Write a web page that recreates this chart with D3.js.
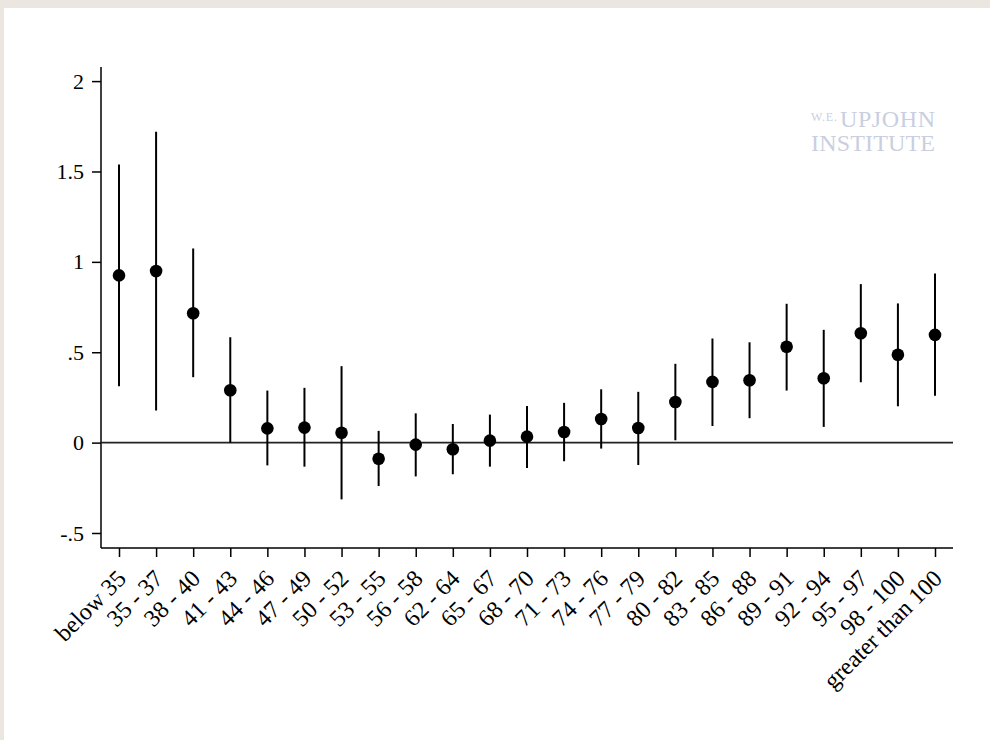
<!DOCTYPE html>
<html><head><meta charset="utf-8">
<script src="https://cdn.jsdelivr.net/npm/d3@7"></script>
<style>
html,body{margin:0;padding:0;background:#ebe6df;}
svg{display:block;}
</style></head>
<body>
<svg id="chart" width="990" height="740"></svg>
<script>
const categories = ["below 35","35 - 37","38 - 40","41 - 43","44 - 46","47 - 49","50 - 52","53 - 55","56 - 58","62 - 64","65 - 67","68 - 70","71 - 73","74 - 76","77 - 79","80 - 82","83 - 85","86 - 88","89 - 91","92 - 94","95 - 97","98 - 100","greater than 100"];
const estimate = [0.925,0.949,0.716,0.290,0.079,0.083,0.055,-0.089,-0.011,-0.037,0.011,0.033,0.059,0.131,0.081,0.225,0.336,0.345,0.530,0.356,0.605,0.486,0.596];
const ciLow  = [0.312,0.177,0.362,0.000,-0.126,-0.133,-0.314,-0.240,-0.187,-0.175,-0.133,-0.140,-0.103,-0.033,-0.124,0.013,0.092,0.135,0.288,0.087,0.334,0.201,0.259];
const ciHigh = [1.539,1.720,1.074,0.583,0.288,0.303,0.423,0.065,0.162,0.103,0.155,0.203,0.220,0.295,0.281,0.436,0.576,0.555,0.768,0.624,0.877,0.770,0.936];
const yTicks = [-0.5,0,0.5,1,1.5,2];
const yTickLabels = ["-.5","0",".5","1","1.5","2"];

const svg = d3.select("#chart");
svg.append("rect").attr("x",4).attr("y",8).attr("width",986).attr("height",732).attr("fill","#ffffff");

const x = d3.scalePoint().domain(categories).range([119,935]);
const y = d3.scaleLinear().domain([-0.583,2.078]).range([548,67]);

const font = "'Liberation Serif','Times New Roman',serif";

// watermark
const wm = svg.append("g").attr("fill","#c9cfe0").attr("font-family",font);
wm.append("text").attr("x",935).attr("y",127).attr("text-anchor","end").attr("font-size",24).attr("textLength",95).text("UPJOHN");
wm.append("text").attr("x",837).attr("y",121).attr("text-anchor","end").attr("font-size",12).attr("textLength",26).text("W.E.");
wm.append("text").attr("x",935).attr("y",151).attr("text-anchor","end").attr("font-size",24).attr("textLength",124).text("INSTITUTE");

// y axis
const yAxis = svg.append("g").attr("transform","translate(101,0)")
  .call(d3.axisLeft(y).tickValues(yTicks).tickFormat((d,i)=>yTickLabels[i]).tickSize(9).tickSizeOuter(0).tickPadding(8));
yAxis.select(".domain").attr("d","M0,67V548").attr("stroke","#000").attr("stroke-width",1.5);
yAxis.selectAll(".tick line").attr("stroke","#000").attr("stroke-width",1.5);
yAxis.selectAll(".tick text").attr("font-family",font).attr("font-size",22).attr("fill","#000");

// x axis
const xAxis = svg.append("g").attr("transform","translate(0,548)")
  .call(d3.axisBottom(x).tickSize(9).tickSizeOuter(0));
xAxis.select(".domain").attr("d","M101,0H953").attr("stroke","#000").attr("stroke-width",1.5);
xAxis.selectAll(".tick line").attr("stroke","#000").attr("stroke-width",1.5);
xAxis.selectAll(".tick text")
  .attr("font-family",font).attr("font-size",24).attr("fill","#000")
  .attr("text-anchor","end")
  .attr("dy",null).attr("y",null)
  .attr("transform","translate(8,32) rotate(-45)");

// zero line
svg.append("line").attr("x1",101).attr("x2",953).attr("y1",y(0)).attr("y2",y(0))
  .attr("stroke","#222").attr("stroke-width",1.6);

// CI lines
svg.append("g").selectAll("line").data(categories).join("line")
  .attr("x1",d=>x(d)).attr("x2",d=>x(d))
  .attr("y1",(d,i)=>y(ciLow[i])).attr("y2",(d,i)=>y(ciHigh[i]))
  .attr("stroke","#000").attr("stroke-width",2);

// points
svg.append("g").selectAll("circle").data(categories).join("circle")
  .attr("cx",d=>x(d)).attr("cy",(d,i)=>y(estimate[i])).attr("r",6.3).attr("fill","#000");
</script>
</body></html>
